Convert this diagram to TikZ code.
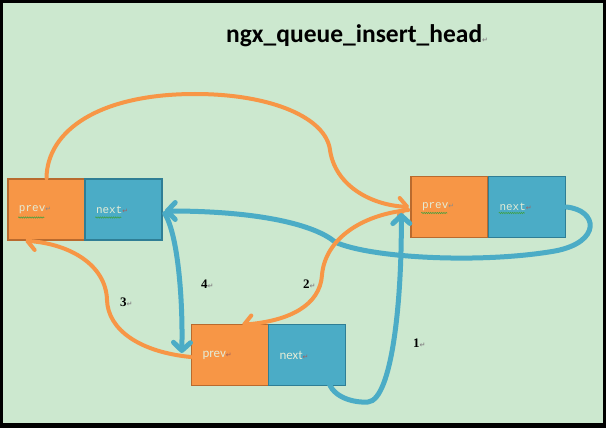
\documentclass[tikz,border=0pt]{standalone}
\usepackage{fontspec}
\setmainfont{Liberation Serif}
\newfontfamily\titlefont{Carlito}
\newfontfamily\monofont{Liberation Mono}
\newfontfamily\cellsans{Carlito}
\newfontfamily\symfont{DejaVu Sans}
\usetikzlibrary{arrows.meta,decorations.pathmorphing,calc}
\definecolor{bg}{HTML}{CCE8CF}
\definecolor{orfill}{HTML}{F79646}
\definecolor{ordraw}{HTML}{B96A2E}
\definecolor{blfill}{HTML}{4BACC6}
\definecolor{bldraw}{HTML}{2F7E95}
\definecolor{boxtext}{HTML}{E4ECD6}
\definecolor{pmark}{HTML}{8A8A8A}
\definecolor{pmarkred}{HTML}{A06060}
\definecolor{squig}{HTML}{3FA03F}
\newcommand{\retmark}[1][pmark]{{\symfont\fontsize{7}{7}\selectfont\textcolor{#1}{↵}}}
\tikzset{
  cell/.style={rectangle, minimum width=77pt, minimum height=61pt, line width=1.5pt,
    inner xsep=10pt, inner ysep=0pt, text width=55pt, align=left, text=boxtext},
  orcell/.style={cell, fill=orfill, draw=ordraw},
  blcell/.style={cell, fill=blfill, draw=bldraw},
  monotext/.style={font=\monofont\fontsize{11}{11}\selectfont},
  sanstext/.style={font=\cellsans\fontsize{13}{13}\selectfont},
  orarrow/.style={draw=orfill, line width=4pt, line cap=round,
    -{Straight Barb[round, length=8pt, width=17pt]}},
  blarrow/.style={draw=blfill, line width=5pt, line cap=round,
    -{Straight Barb[round, length=8pt, width=17pt]}},
  squiggle/.style={draw=squig, line width=0.5pt, decorate,
    decoration={snake, amplitude=0.7pt, segment length=2.2pt}},
  numlabel/.style={font=\bfseries\fontsize{13}{13}\selectfont, anchor=base west, inner sep=0pt}
}
\begin{document}
\begin{tikzpicture}[x=1pt, y=-1pt]
\fill[black] (0,0) rectangle (606,428);
\fill[bg] (3,3) rectangle (603,423);
\useasboundingbox (0,0) rectangle (606,428);

% title
\node[anchor=base west, inner sep=0pt, font=\titlefont\bfseries\fontsize{25.5}{25.5}\selectfont] (title) at (226,43) {ngx\_queue\_insert\_head\retmark};

% boxes
\node[orcell, monotext] (aprev) at (46.5,209.5) {prev\retmark};
\node[blcell, monotext] (anext) at (123.5,209.5) {next\retmark[pmarkred]};
\node[orcell, monotext] (bprev) at (449.5,207) {prev\retmark};
\node[blcell, monotext] (bnext) at (527,207) {next\retmark[pmarkred]};
\node[orcell, sanstext] (cprev) at (230,355) {prev\retmark[pmarkred]};
\node[blcell, sanstext] (cnext) at (307,355) {next\retmark[pmarkred]};

% spell-check squiggles
\draw[squiggle] ($(aprev.west)+(11,8)$) -- ++(26,0);
\draw[squiggle] ($(anext.west)+(11,8)$) -- ++(26,0);
\draw[squiggle] ($(bprev.west)+(11,6)$) -- ++(26,0);
\draw[squiggle] ($(bnext.west)+(11,6)$) -- ++(26,0);

% connectors
\draw[orarrow] (aprev.north) .. controls (47,130) and (100,94) .. (195,94)
  .. controls (272,94) and (326,118) .. (330,150)
  .. controls (335,185) and (370,205) .. ($(bprev.west)+(-1,0)$);

\draw[blarrow] (bnext.east) .. controls (598,210) and (602,242) .. (555,251)
  .. controls (480,264) and (370,258) .. (335,242)
  .. controls (315,225) and (260,211) .. ($(anext.east)+(2,1.5)$);

\draw[orarrow] ($(bprev.west)+(-2,3)$) .. controls (360,215) and (325,240) .. (322,275)
  .. controls (320,305) and (290,321) .. ($(cprev.north)+(12,1)$);

\draw[blarrow] ($(anext.east)+(2,4)$) .. controls (178,235) and (183,300) .. ($(cprev.west)+(-9,-2)$);

\draw[orarrow] ($(cprev.west)+(0,2)$) .. controls (140,352) and (108,330) .. (107,300)
  .. controls (106,265) and (70,244) .. ($(aprev.south west)+(18,0)$);

\draw[blarrow] ($(cnext.south east)+(-18,-6)$) .. controls (332,398) and (355,403) .. (368,402)
  .. controls (392,400) and (402,300) .. ($(bprev.west)+(-9,6)$);

% step labels
\node[numlabel] (n1) at (413,347) {1\retmark};
\node[numlabel] (n2) at (303,288) {2\retmark};
\node[numlabel] (n3) at (120,306) {3\retmark};
\node[numlabel] (n4) at (201,288) {4\retmark};
\end{tikzpicture}
\end{document}
